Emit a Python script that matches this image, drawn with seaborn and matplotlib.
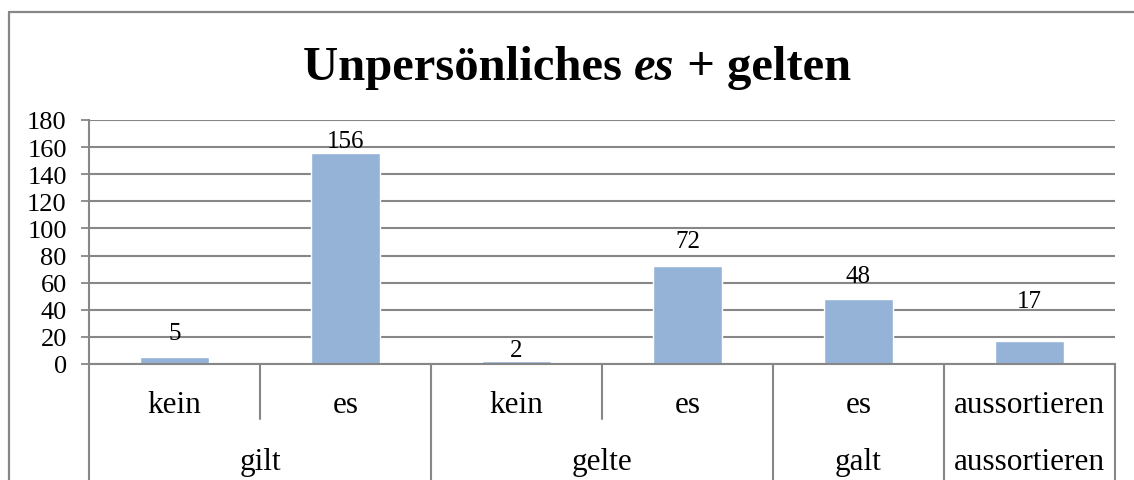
import numpy as np
import pandas as pd
import matplotlib
matplotlib.use("Agg")
import matplotlib.pyplot as plt
import seaborn as sns
from matplotlib.lines import Line2D

# --- data ---
groups = ["gilt", "gilt", "gelte", "gelte", "galt", "aussortieren"]
subcats = ["kein", "es", "kein", "es", "es", "aussortieren"]
counts = [5, 156, 2, 72, 48, 17]
y_ticks = [0, 20, 40, 60, 80, 100, 120, 140, 160, 180]

# label gap above each bar (points), as placed in the original
label_gap = [13, 4.3, 3.6, 13.7, 12.2, 24.5]

BAR = "#95b3d7"
GRID = "#878787"
SERIF = ["Liberation Serif", "DejaVu Serif"]

sns.set_theme(style="white")
plt.rcParams["font.family"] = SERIF
plt.rcParams["text.color"] = "black"
plt.rcParams["ytick.labelcolor"] = "black"

df = pd.DataFrame({"key": [f"{g}|{s}" for g, s in zip(groups, subcats)],
                   "n": counts})

fig = plt.figure(figsize=(11.34, 4.81), dpi=100, facecolor="white")
ax = fig.add_axes([89 / 1134, 1 - 365 / 481, (1115 - 89) / 1134, 244 / 481])

sns.barplot(data=df, x="key", y="n", order=df["key"], color=BAR,
            width=0.40, saturation=1, ax=ax)

ax.set_ylim(0, 180)
ax.set_xlim(-0.5, len(counts) - 0.5)
ax.set_yticks(y_ticks)
ax.set_yticklabels([str(t) for t in y_ticks], fontsize=19, color="black")
ax.tick_params(axis="y", length=6, width=1.3, color=GRID, pad=10, left=True)
ax.set_xticks([])
ax.set_xlabel("")
ax.set_ylabel("")
ax.yaxis.grid(True, color=GRID, linewidth=1.5)
ax.set_axisbelow(True)
for side in ["top", "right"]:
    ax.spines[side].set_visible(False)
ax.spines["left"].set_color(GRID)
ax.spines["left"].set_linewidth(1.5)
ax.spines["bottom"].set_color(GRID)
ax.spines["bottom"].set_linewidth(1.5)

# data labels
for p, v, gap in zip(ax.patches, counts, label_gap):
    ax.annotate(str(v), (p.get_x() + p.get_width() / 2, p.get_height()),
                xytext=(0, gap), textcoords="offset points",
                ha="center", va="baseline", fontsize=18, color="black")

# multi-level category axis
tr = ax.get_xaxis_transform()
n = len(counts)
for i, s in enumerate(subcats):
    ax.text(i, -0.165, s, transform=tr, ha="center", va="center",
            fontsize=22.5, color="black", clip_on=False)
# group spans
spans = []
start = 0
for i in range(1, n + 1):
    if i == n or groups[i] != groups[start]:
        spans.append((start, i - 1, groups[start]))
        start = i
bounds = set()
for a, b, g in spans:
    ax.text((a + b) / 2, -0.40, g, transform=tr, ha="center", va="center",
            fontsize=22.5, color="black", clip_on=False)
    bounds.add(a - 0.5)
    bounds.add(b + 0.5)
for i in range(n + 1):
    x = i - 0.5
    y_end = -0.52 if x in bounds else -0.225
    ax.add_line(Line2D([x, x], [0, y_end], transform=tr, color=GRID,
                       linewidth=1.5, clip_on=False))

# outer chart frame (left + top)
fig.add_artist(Line2D([9 / 1134, 9 / 1134], [0, 1 - 13 / 481],
                      transform=fig.transFigure, color=GRID, linewidth=1.6))
fig.add_artist(Line2D([9 / 1134, 1], [1 - 13 / 481, 1 - 13 / 481],
                      transform=fig.transFigure, color=GRID, linewidth=1.6))

# title with italic "es"
parts = [("Unpersönliches ", "normal"), ("es", "italic"), (" + gelten", "normal")]
fig.canvas.draw()
renderer = fig.canvas.get_renderer()
texts = []
for s, style in parts:
    t = fig.text(0, 1 - 80 / 481, s, fontsize=35, fontweight="bold",
                 fontstyle=style, ha="left", va="baseline", color="black")
    texts.append(t)
widths = [t.get_window_extent(renderer).width for t in texts]
total = sum(widths)
x0 = 577 - total / 2
for t, w in zip(texts, widths):
    t.set_x(x0 / 1134)
    x0 += w

fig.savefig("out.png", dpi=100, facecolor="white")
